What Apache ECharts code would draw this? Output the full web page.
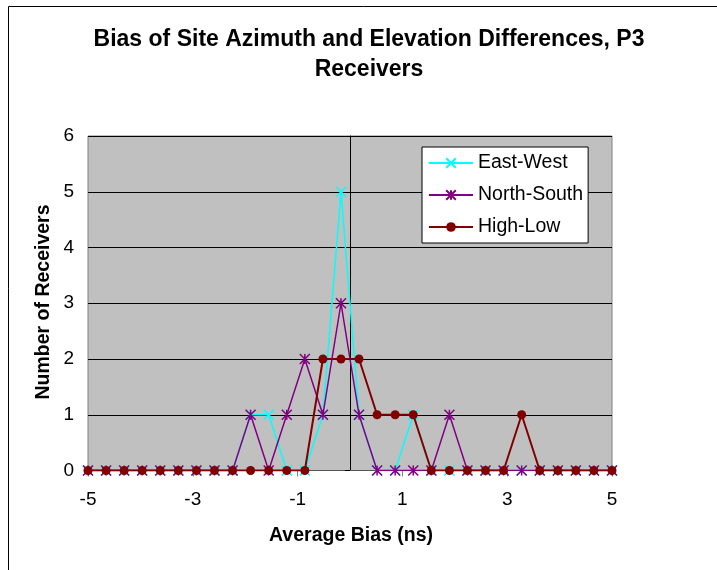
<!DOCTYPE html>
<html>
<head>
<meta charset="utf-8">
<script src="https://cdn.jsdelivr.net/npm/echarts@6/dist/echarts.min.js"></script>
<style>
html,body{margin:0;padding:0;background:#fff;}
#chart{width:717px;height:570px;}
</style>
</head>
<body>
<div id="chart"></div>
<script>
// ---- data ----
const chartTitle = 'Bias of Site Azimuth and Elevation Differences, P3\nReceivers';
const xAxisTitle = 'Average Bias (ns)';
const yAxisTitle = 'Number of Receivers';
const seriesNames = ['East-West', 'North-South', 'High-Low'];
const xValues = [-5.000, -4.655, -4.310, -3.966, -3.621, -3.276, -2.931, -2.586, -2.241, -1.897,
                 -1.552, -1.207, -0.862, -0.517, -0.172, 0.172, 0.517, 0.862, 1.207, 1.552,
                 1.897, 2.241, 2.586, 2.931, 3.276, 3.621, 3.966, 4.310, 4.655, 5.000];
const eastWest   = [0,0,0,0,0,0,0,0,0,1, 1,0,0,1,5,1,0,0,1,0, 0,0,0,0,0,0,0,0,0,0];
const northSouth = [0,0,0,0,0,0,0,0,0,1, 0,1,2,1,3,1,0,0,0,0, 1,0,0,0,0,0,0,0,0,0];
const highLow    = [0,0,0,0,0,0,0,0,0,0, 0,0,0,2,2,2,1,1,1,0, 0,0,0,0,1,0,0,0,0,0];
const xTickValues = [-5, -3, -1, 1, 3, 5];
const yMin = 0, yMax = 6, yStep = 1;

// ---- chart ----
const FONT = '"Liberation Sans", Arial, Helvetica, sans-serif';
const chart = echarts.init(document.getElementById('chart'), null, {renderer: 'canvas'});

function pairs(ys) { return xValues.map((x, i) => [x, ys[i]]); }

const X_PATH = 'path://M0,0 L10,10 M10,0 L0,10';
const STAR_PATH = 'path://M0,0 L10,10 M10,0 L0,10 M5,0 L5,10';

const option = {
  animation: false,
  backgroundColor: '#ffffff',
  title: {
    text: chartTitle,
    left: 369,
    top: 25,
    textAlign: 'center',
    padding: 0,
    textStyle: {fontFamily: FONT, fontSize: 23, fontWeight: 'bold', color: '#000', lineHeight: 30}
  },
  legend: {
    orient: 'vertical',
    left: 422,
    top: 147,
    padding: [6, 5, 6, 6],
    itemWidth: 44,
    itemHeight: 12,
    itemGap: 12,
    backgroundColor: '#ffffff',
    borderColor: '#000000',
    borderWidth: 1,
    borderRadius: 0,
    textStyle: {fontFamily: FONT, fontSize: 19.5, color: '#000', lineHeight: 20},
    data: seriesNames
  },
  grid: {
    left: 88, top: 136, width: 524, height: 334.5,
    show: true,
    backgroundColor: '#C0C0C0',
    borderColor: '#808080',
    borderWidth: 1
  },
  xAxis: {
    type: 'value',
    min: -5, max: 5,
    axisLine: {show: true, onZero: true, lineStyle: {color: '#555555', width: 1}},
    axisTick: {show: true, length: 6, customValues: xTickValues, lineStyle: {color: '#808080'}},
    axisLabel: {customValues: xTickValues, fontFamily: FONT, fontSize: 19, color: '#000', margin: 19, lineHeight: 20},
    splitLine: {show: false}
  },
  yAxis: [
    {
      type: 'value',
      position: 'left',
      min: yMin, max: yMax, interval: yStep,
      axisLine: {show: false, onZero: false},
      axisTick: {show: false},
      axisLabel: {fontFamily: FONT, fontSize: 19, color: '#000', margin: 14},
      splitLine: {show: true, lineStyle: {color: '#000000', width: 1}}
    },
    {
      type: 'value',
      position: 'left',
      min: yMin, max: yMax, interval: yStep,
      axisLine: {show: true, onZero: true, lineStyle: {color: '#000000', width: 1}},
      axisTick: {show: true, length: 5, lineStyle: {color: '#000000'}},
      axisLabel: {show: false},
      splitLine: {show: false}
    }
  ],
  graphic: [
    {
      type: 'rect', silent: true, z: -1,
      shape: {x: 8.5, y: 6.5, width: 740, height: 600},
      style: {fill: 'none', stroke: '#000000', lineWidth: 1}
    },
    {
      type: 'text', silent: true,
      x: 351, y: 536,
      style: {text: xAxisTitle, fill: '#000', font: 'bold 19.5px ' + FONT, align: 'center', verticalAlign: 'middle'}
    },
    {
      type: 'text', silent: true,
      x: 44, y: 302, rotation: Math.PI / 2,
      style: {text: yAxisTitle, fill: '#000', font: 'bold 19.5px ' + FONT, align: 'center', verticalAlign: 'middle'}
    }
  ],
  series: [
    {
      name: seriesNames[0], type: 'line', data: pairs(eastWest),
      symbol: X_PATH, symbolSize: 10, showSymbol: true,
      lineStyle: {color: '#00FFFF', width: 1.5},
      itemStyle: {color: '#00FFFF', borderColor: '#00FFFF', borderWidth: 1.5},
      emphasis: {disabled: true}, z: 2
    },
    {
      name: seriesNames[1], type: 'line', data: pairs(northSouth),
      symbol: STAR_PATH, symbolSize: 10, showSymbol: true,
      lineStyle: {color: '#800080', width: 1.5},
      itemStyle: {color: '#800080', borderColor: '#800080', borderWidth: 1.5},
      emphasis: {disabled: true}, z: 3
    },
    {
      name: seriesNames[2], type: 'line', data: pairs(highLow),
      symbol: 'circle', symbolSize: 9, showSymbol: true,
      lineStyle: {color: '#800000', width: 2},
      itemStyle: {color: '#800000', borderWidth: 0},
      emphasis: {disabled: true}, z: 4
    }
  ]
};
chart.setOption(option);
</script>
</body>
</html>
